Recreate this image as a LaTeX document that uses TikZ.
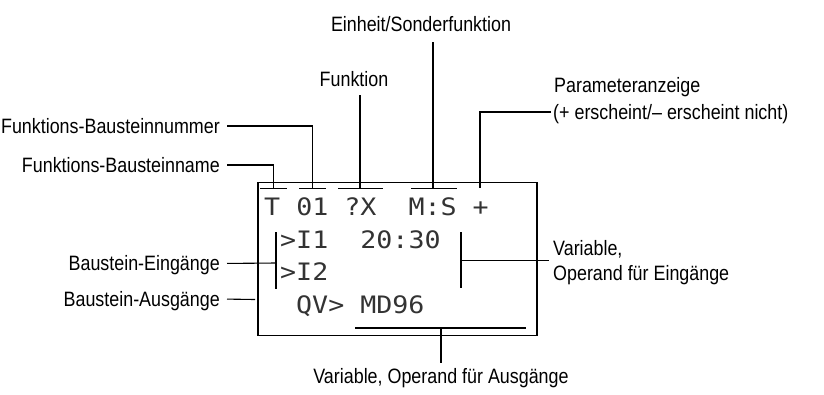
\documentclass[tikz,border=0pt]{standalone}
\usepackage{fontspec}
\setmainfont[FakeStretch=0.86]{Liberation Sans}
\newfontfamily\lcdfont[FakeStretch=1.11]{DejaVu Sans Mono}
\begin{document}
\begin{tikzpicture}[x=1pt,y=-1pt,
  lbl/.style={font=\fontsize{20.8}{25.6}\selectfont, inner sep=0pt, text height=14.9pt, text depth=0pt},
  lcd/.style={font=\lcdfont\fontsize{24}{30}\selectfont, inner sep=0pt, anchor=base west, text=black!80},
  ln/.style={line width=1.1pt},
  frame/.style={draw, line width=1.3pt, inner sep=0pt, minimum width=279pt, minimum height=153pt}
]
\useasboundingbox (0,0) rectangle (824,394);

% display frame
\node[frame] (lcdbox) at (397.5,259) {};

% display text
\node[lcd] (r1) at (264,215.5) {T~01~?X~~M:S~+};
\node[lcd] (r2) at (280,248) {>I1~~20:30};
\node[lcd] (r3) at (280,280.5) {>I2};
\node[lcd] (r4) at (296,313.5) {QV>~MD96};

% marker bars inside the display
\draw[ln] (260,188.3) -- (287,188.3);
\draw[ln] (299,188.3) -- (326,188.3);
\draw[ln] (338,188.3) -- (383,188.3);
\draw[ln] (411,188.3) -- (457,188.3);
\draw[ln] (276,232) -- (276,289);
\draw[ln] (461,232) -- (461,288);
\draw[ln] (355,328) -- (526,328);

% attachment points
\coordinate (bT) at (273.5,188.3);
\coordinate (bNum) at (312.5,188.3);
\coordinate (bFun) at (360,188.3);
\coordinate (bEin) at (433,188.3);
\coordinate (bPar) at (480,188.3);
\coordinate (eIn) at (276,263);
\coordinate (aOut) at (255,299.5);
\coordinate (vIn) at (461,260.7);
\coordinate (oOut) at (441,328);

% labels
\node[lbl, anchor=east] (lnum) at (220,126) {Funktions-Bausteinnummer};
\node[lbl, anchor=east] (lname) at (220,165) {Funktions-Bausteinname};
\node[lbl, anchor=east] (lbe) at (220,263.5) {Baustein-Eingänge};
\node[lbl, anchor=east] (lba) at (220,299) {Baustein-Ausgänge};
\node[lbl] (lfun) at (354,79) {Funktion};
\node[lbl] (lein) at (421,24.5) {Einheit/Sonderfunktion};
\node[lbl, anchor=west] (lpar1) at (554,85) {Parameteranzeige};
\node[lbl, anchor=west] (lpar2) at (553,112) {(+ erscheint/– erscheint nicht)};
\node[lbl, anchor=west] (lvar1) at (553,247.6) {Variable,};
\node[lbl, anchor=west] (lvar2) at (553,272.6) {Operand für Eingänge};
\node[lbl] (lout) at (441,376.5) {Variable, Operand für Ausgänge};

% leaders
\draw[ln, shorten <=7pt] (lnum.east) -| (bNum);
\draw[ln, shorten <=7pt] (lname.east) -| (bT);
\draw[ln, shorten >=8.5pt] (bFun) -- (bFun |- lfun.south);
\draw[ln, shorten >=10pt] (bEin) -- (bEin |- lein.south);
\draw[ln, shorten <=2.5pt] (lpar2.west) -| (bPar);
\draw[ln, shorten <=7pt] (lbe.east) -- (eIn);
\draw[ln, shorten <=7pt] (lba.east) -- (aOut);
\draw[ln, shorten >=4pt] (vIn) -- (vIn -| lvar1.west);
\draw[ln, shorten >=6pt] (oOut) -- (oOut |- lout.north);
\end{tikzpicture}
\end{document}
